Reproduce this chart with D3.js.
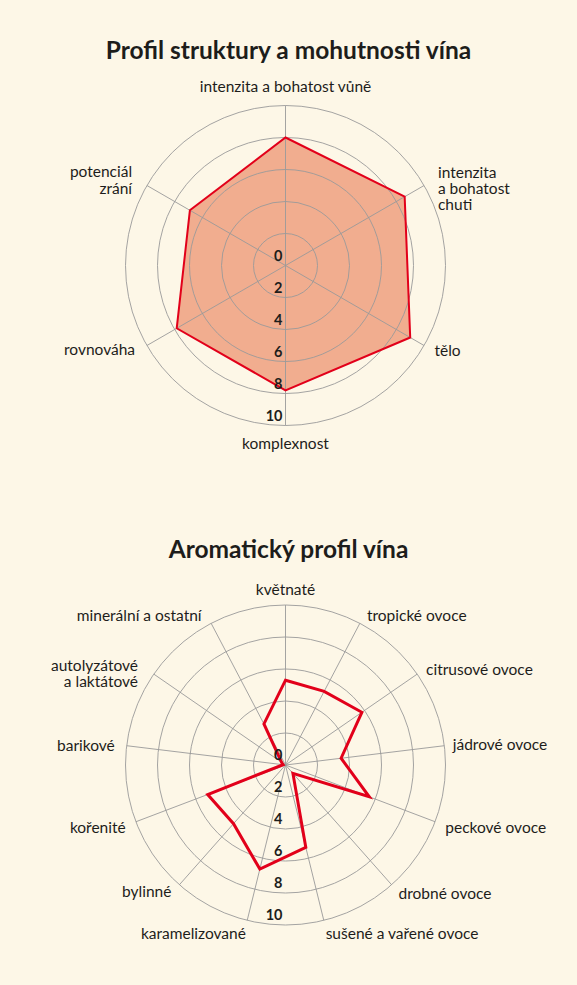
<!DOCTYPE html>
<html>
<head>
<meta charset="utf-8">
<script src="https://cdn.jsdelivr.net/npm/d3@7"></script>
<style>
  html, body { margin: 0; padding: 0; background: #fdf7e7; }
  svg { display: block; }
  text { font-family: "Lato", "Open Sans", sans-serif; fill: #1d1d1b; }
</style>
</head>
<body>
<svg id="chart" width="577" height="985"></svg>
<script>
// ---------- DATA ----------
const structureTitle = "Profil struktury a mohutnosti vína";
const structureAxes = [
  ["intenzita a bohatost vůně"],
  ["intenzita", "a bohatost", "chuti"],
  ["tělo"],
  ["komplexnost"],
  ["rovnováha"],
  ["potenciál", "zrání"]
];
const structureValues = [8.0, 8.6, 9.0, 7.8, 7.85, 6.9];

const aromaTitle = "Aromatický profil vína";
const aromaAxes = [
  ["květnaté"],
  ["tropické ovoce"],
  ["citrusové ovoce"],
  ["jádrové ovoce"],
  ["peckové ovoce"],
  ["drobné ovoce"],
  ["sušené a vařené ovoce"],
  ["karamelizované"],
  ["bylinné"],
  ["kořenité"],
  ["barikové"],
  ["autolyzátové", "a laktátové"],
  ["minerální a ostatní"]
];
const aromaValues = [5.3, 5.2, 5.8, 3.5, 5.6, 0.7, 5.3, 6.7, 4.9, 5.2, 0.15, 0.3, 2.9];

const tickValues = [0, 2, 4, 6, 8, 10];
const ringValues = [2, 4, 6, 8, 10];

// ---------- LAYOUT ----------
const svg = d3.select("#chart");
const W = 577;
const R = 160;
const labelR = 172;
const rScale = d3.scaleLinear().domain([0, 10]).range([0, R]);

// small per-label nudges [dx, dy] (layout only)
const structureNudge = [[0, -6.5], [3.5, 9], [0, -1], [0, 6], [-1.5, -1.5], [-4.5, 0.5]];
const aromaNudge = [[0, -3], [1.5, 3], [-1, 2], [-3.5, 0], [-1, 1.3], [-1, 0], [-1, 1.3],
                    [1.5, 2], [0, -2], [1, 2], [0, 1.5], [-6, 6], [-4, 3]];

function radar(opts) {
  const { cx, cy, title, titleY, axes, values, nudge, fill, stroke, strokeWidth } = opts;
  const n = axes.length;
  const angle = d3.scaleLinear().domain([0, n]).range([0, 2 * Math.PI]);

  svg.append("text")
    .attr("x", W / 2).attr("y", titleY)
    .attr("text-anchor", "middle")
    .style("font-size", "24.5px").style("font-weight", "700")
    .text(title);

  const g = svg.append("g").attr("transform", `translate(${cx},${cy})`);

  const line = d3.lineRadial()
    .angle((d, i) => angle(i))
    .radius(d => rScale(d))
    .curve(d3.curveLinearClosed);

  if (fill) {
    g.append("path").datum(values)
      .attr("d", line)
      .attr("fill", fill);
  }

  g.selectAll("circle.ring").data(ringValues).join("circle")
    .attr("class", "ring")
    .attr("r", d => rScale(d))
    .attr("fill", "none")
    .attr("stroke", "#9a9a9a")
    .attr("stroke-width", 0.9);

  g.selectAll("line.spoke").data(axes).join("line")
    .attr("class", "spoke")
    .attr("x1", 0).attr("y1", 0)
    .attr("x2", (d, i) => rScale(10) * Math.sin(angle(i)))
    .attr("y2", (d, i) => -rScale(10) * Math.cos(angle(i)))
    .attr("stroke", "#9a9a9a")
    .attr("stroke-width", 0.9);

  g.append("path").datum(values)
    .attr("d", line)
    .attr("fill", "none")
    .attr("stroke", stroke)
    .attr("stroke-width", strokeWidth)
    .attr("stroke-linejoin", "miter");

  g.selectAll("text.tick").data(tickValues).join("text")
    .attr("class", "tick")
    .attr("x", -3)
    .attr("y", d => rScale(d) - 10)
    .attr("dy", "0.36em")
    .attr("text-anchor", "end")
    .style("font-size", "14.5px").style("font-weight", "700")
    .text(d => d);

  const lh = 16.4;
  axes.forEach((lines, i) => {
    const a = angle(i);
    const s = Math.sin(a), c = Math.cos(a);
    const x = labelR * s + nudge[i][0];
    const y = -labelR * c + nudge[i][1];
    const anchor = Math.abs(s) < 0.1 ? "middle" : (s > 0 ? "start" : "end");
    const t = g.append("text")
      .attr("text-anchor", anchor)
      .style("font-size", "15.5px");
    const y0 = y - (lines.length - 1) * lh / 2;
    lines.forEach((ln, k) => {
      t.append("tspan")
        .attr("x", x)
        .attr("y", y0 + k * lh)
        .attr("dy", "0.35em")
        .text(ln);
    });
  });
}

radar({
  cx: 285.5, cy: 265.5, title: structureTitle, titleY: 59,
  axes: structureAxes, values: structureValues, nudge: structureNudge,
  fill: "#f1ad8f", stroke: "#e2001a", strokeWidth: 2
});

radar({
  cx: 285.5, cy: 765, title: aromaTitle, titleY: 558,
  axes: aromaAxes, values: aromaValues, nudge: aromaNudge,
  fill: null, stroke: "#e2001a", strokeWidth: 3
});
</script>
</body>
</html>
